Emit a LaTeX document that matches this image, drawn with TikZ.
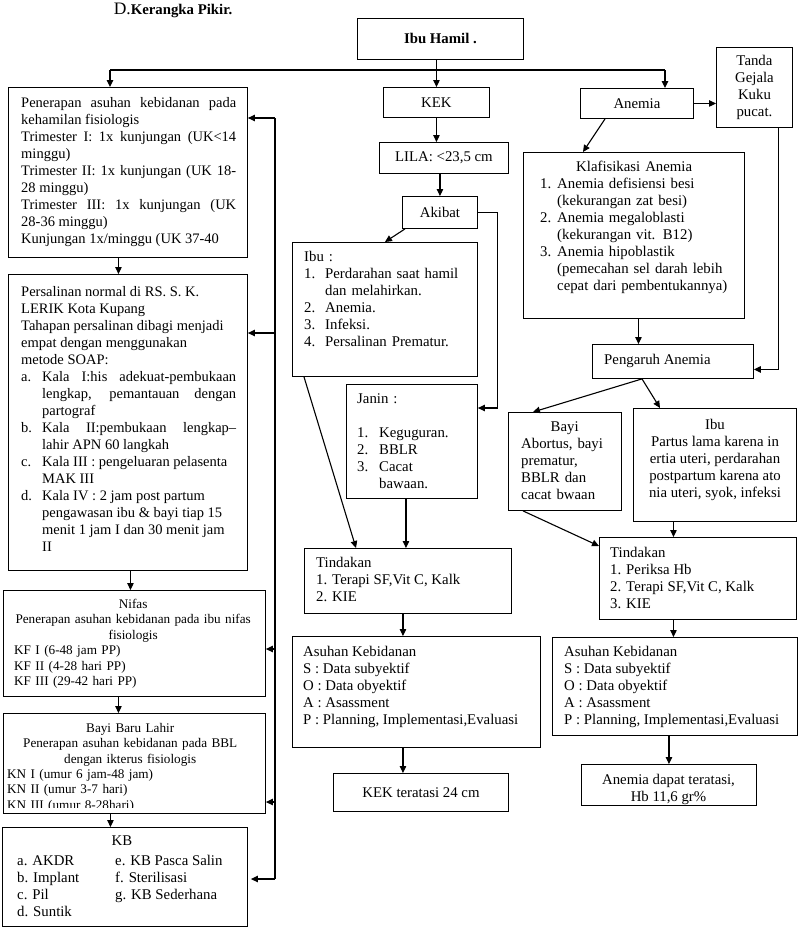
\documentclass[tikz,border=0pt]{standalone}
\usepackage{fontspec}
\setmainfont{Liberation Serif}
\usetikzlibrary{arrows.meta}
\setlength{\parindent}{0pt}
\setlength{\parskip}{0pt}
\hyphenpenalty=10000
\exhyphenpenalty=10000
% numbered item with hanging indent
\newcommand{\itm}[3][21pt]{\par\noindent\hangindent=#1\hangafter=1\makebox[#1][l]{#2}#3}

\begin{document}
\begin{tikzpicture}[x=1pt, y=-1pt,
  every node/.style={font=\fontsize{14.8}{17}\selectfont},
  box/.style={draw, line width=0.9pt, inner sep=0pt, anchor=north west},
  txt/.style={inner sep=0pt, anchor=north west},
  left col/.style={font=\fontsize{14.5}{17}\selectfont, align=justify},
  small/.style={font=\fontsize{13.2}{15.4}\selectfont},
  arr/.style={-{Triangle[length=7pt,width=6.5pt]}, line width=1.1pt},
  ln/.style={line width=1.1pt},
]
  \useasboundingbox (0,0) rectangle (798,940);

  \node[txt, anchor=center] (judul) at (173,10)
    {{\fontsize{17.5}{20}\selectfont D.}\textbf{Kerangka Pikir.}};

  % top row
  \node[box, minimum width=166pt, minimum height=41pt] (ih) at (357,18) {\textbf{Ibu Hamil .}};
  \node[box, minimum width=106pt, minimum height=30pt] (kek) at (383,87) {KEK};
  \node[box, minimum width=113pt, minimum height=30pt] (anemia) at (580,88) {Anemia};
  \node[box, minimum width=76pt, minimum height=80pt, align=center] (tanda) at (716,47)
    {Tanda\\Gejala\\Kuku\\pucat.};

  % KEK column
  \node[box, minimum width=129pt, minimum height=31pt] (lila) at (379,142) {LILA: <23,5 cm};
  \node[box, minimum width=75pt, minimum height=32pt] (akibat) at (402,196) {Akibat};
  \node[box, minimum width=185pt, minimum height=134pt] (ibuk) at (292,242) {};
  \node[txt, text width=166pt] (ibuk-t) at (304,251)
    {Ibu :\itm{1.}{Perdarahan saat hamil\newline dan melahirkan.}\itm{2.}{Anemia.}%
     \itm{3.}{Infeksi.}\itm{4.}{Persalinan Prematur.}\par};
  \node[box, minimum width=131pt, minimum height=114pt] (janin) at (346,384) {};
  \node[txt, text width=113pt] (janin-t) at (357,393)
    {Janin :\par\mbox{}\itm[22pt]{1.}{Keguguran.}\itm[22pt]{2.}{BBLR}%
     \itm[22pt]{3.}{Cacat\newline bawaan.}\par};
  \node[box, minimum width=207pt, minimum height=65pt] (tindk) at (304,548) {};
  \node[txt, align=left] (tindk-t) at (316,557)
    {Tindakan\\1. Terapi SF,Vit C, Kalk\\2. KIE};
  \node[box, minimum width=248pt, minimum height=111pt] (asuhk) at (292,636) {};
  \node[txt, align=left] (asuhk-t) at (303,646)
    {Asuhan Kebidanan\\S : Data subyektif\\O : Data obyektif\\A : Asassment\\P : Planning, Implementasi,Evaluasi};
  \node[box, minimum width=175pt, minimum height=38pt] (kekt) at (333,773) {KEK teratasi 24 cm};

  % Anemia column
  \node[box, minimum width=221pt, minimum height=166pt] (klas) at (523,152) {};
  \node[txt, text width=200pt] (klas-t) at (540,161)
    {\hspace*{36pt}Klafisikasi Anemia%
     \itm[17pt]{1.}{Anemia defisiensi besi\newline (kekurangan zat besi)}%
     \itm[17pt]{2.}{Anemia megaloblasti\newline (kekurangan vit. B12)}%
     \itm[17pt]{3.}{Anemia hipoblastik\newline (pemecahan sel darah lebih\newline cepat dari pembentukannya)}\par};
  \node[box, minimum width=161pt, minimum height=34pt] (peng) at (592,344) {};
  \node[txt, anchor=west] (peng-t) at ([xshift=12pt]peng.west) {Pengaruh Anemia};
  \node[box, minimum width=113pt, minimum height=98pt] (bayi) at (508,412) {};
  \node[txt, text width=87pt] (bayi-t) at (521,421)
    {\makebox[87pt][c]{Bayi}\\Abortus, bayi\\prematur,\\BBLR dan\\cacat bwaan};
  \node[box, minimum width=163pt, minimum height=113pt] (ibua) at (633,408) {};
  \node[txt, anchor=north, align=center] (ibua-t) at (715,419)
    {Ibu\\Partus lama karena in\\ertia uteri, perdarahan\\postpartum karena ato\\nia uteri, syok, infeksi};
  \node[box, minimum width=197pt, minimum height=82pt] (tinda) at (599,537) {};
  \node[txt, align=left] (tinda-t) at (610,547)
    {Tindakan\\1. Periksa Hb\\2. Terapi SF,Vit C, Kalk\\3. KIE};
  \node[box, minimum width=245pt, minimum height=98pt] (asuha) at (552,637) {};
  \node[txt, align=left] (asuha-t) at (564,646)
    {Asuhan Kebidanan\\S : Data subyektif\\O : Data obyektif\\A : Asassment\\P : Planning, Implementasi,Evaluasi};
  \node[box, minimum width=175pt, minimum height=41pt] (anemt) at (581,764) {};
  \node[txt, anchor=north, align=center] (anemt-t) at (668.5,774)
    {Anemia dapat teratasi,\\Hb 11,6 gr\%};

  % left column
  \node[box, minimum width=239pt, minimum height=170pt] (p1) at (8,87) {};
  \node[txt, left col, text width=215pt] (p1-t) at (21,97)
    {Penerapan asuhan kebidanan pada\linebreak kehamilan fisiologis\par
     Trimester I: 1x kunjungan (UK<14\linebreak minggu)\par
     Trimester II: 1x kunjungan (UK 18-\linebreak 28 minggu)\par
     Trimester III: 1x kunjungan (UK\linebreak 28-36 minggu)\par
     Kunjungan 1x/minggu (UK 37-40\par};
  \node[box, minimum width=239pt, minimum height=296pt] (p2) at (8,274) {};
  \node[txt, left col, text width=215pt] (p2-t) at (21,286)
    {Persalinan normal di RS. S. K.\newline LERIK Kota Kupang\newline Tahapan persalinan dibagi menjadi\newline
     empat dengan menggunakan\newline metode SOAP:%
     \itm{a.}{Kala I:his adekuat-pembukaan\linebreak lengkap, pemantauan dengan\linebreak partograf}%
     \itm{b.}{Kala II:pembukaan lengkap\textendash\linebreak lahir APN 60 langkah}%
     \itm{c.}{Kala III : pengeluaran pelasenta\newline MAK III}%
     \itm{d.}{Kala IV : 2 jam post partum\newline pengawasan ibu \& bayi tiap 15\newline menit 1 jam I dan 30 menit jam\newline II}\par};
  \node[box, minimum width=262pt, minimum height=106pt] (nifas) at (3,590) {};
  \node[txt, small, text width=250pt] (nifas-t) at (8,599)
    {\centering Nifas\\Penerapan asuhan kebidanan pada ibu nifas\\fisiologis\par
     \raggedright\leftskip=6pt KF I (6-48 jam PP)\\KF II (4-28 hari PP)\\KF III (29-42 hari PP)\par};
  \node[box, minimum width=262pt, minimum height=100pt] (bbl) at (3,713) {};
  \begin{scope}
    \clip (bbl.north west) rectangle ([yshift=6pt]bbl.south east);
    \node[txt, small, text width=246pt] (bbl-t) at (7,723)
      {\centering Bayi Baru Lahir\\Penerapan asuhan kebidanan pada BBL\\dengan ikterus fisiologis\par
       \raggedright KN I (umur 6 jam-48 jam)\\KN II (umur 3-7 hari)\\KN III (umur 8-28hari)};
  \end{scope}
  \node[box, minimum width=245pt, minimum height=99pt] (kb) at (2,827) {};
  \node[txt, anchor=north] (kb-t) at (122,836) {KB};
  \node[txt] (kb-l) at (17,853)
    {\begin{tabular}{@{}p{98pt}@{}l@{}}
       a. AKDR    & e. KB Pasca Salin\\
       b. Implant & f. Sterilisasi\\
       c. Pil     & g. KB Sederhana\\
       d. Suntik  &
     \end{tabular}};

  % split from Ibu Hamil
  \coordinate (barL) at (110,70);
  \coordinate (barR) at (665,70);
  \draw[ln] (barL) -- (barR);
  \draw[arr] (ih.south -| kek.north) -- (kek.north);
  \draw[arr] (barL) -- (barL |- p1.north);
  \draw[arr] (barR) -- (barR |- anemia.north);

  % left column
  \draw[arr] ([xshift=-9.5pt]p1.south) -- ([xshift=-9.5pt]p1.south |- p2.north);
  \draw[arr] ([xshift=2.5pt]p2.south) -- ([xshift=2.5pt]p2.south |- nifas.north);
  \draw[arr] ([xshift=-16pt]nifas.south) -- ([xshift=-16pt]nifas.south |- bbl.north);
  \draw[arr] ([xshift=-24pt]bbl.south) -- ([xshift=-24pt]bbl.south |- kb.north);
  \coordinate (fb1) at (275,118);
  \coordinate (fb2) at (275,333);
  \coordinate (fb3) at (275,649);
  \coordinate (fb4) at (275,802);
  \coordinate (fb5) at (275,879);
  \draw[ln] (fb1) -- (fb5);
  \draw[arr] (fb1) -- (fb1 -| p1.east);
  \draw[arr] (fb2) -- (fb2 -| p2.east);
  \draw[arr] (fb3) -- (fb3 -| nifas.east);
  \draw[arr] (fb4) -- (fb4 -| bbl.east);
  \draw[arr] (fb5) -- ([xshift=3pt]fb5 -| kb.east);

  % KEK column
  \draw[arr] (kek.south) -- (kek.south |- lila.north);
  \draw[arr] (akibat.north |- lila.south) -- (akibat.north);
  \draw[arr] ([xshift=3pt]akibat.south west) -- (ibuk.north);
  \draw[arr] (akibat.east) -| ([xshift=20pt,yshift=-24pt]janin.north east) -- ([yshift=-24pt]janin.north east);
  \draw[arr] ([xshift=12pt]ibuk.south west) -- ([xshift=52pt]tindk.north west);
  \draw[arr] ([xshift=-6pt]janin.south) -- ([xshift=-6pt]janin.south |- tindk.north);
  \draw[arr] ([xshift=-5pt]tindk.south) -- ([xshift=-5pt]tindk.south |- asuhk.north);
  \draw[arr] ([xshift=-5pt]tindk.south |- asuhk.south) -- ([xshift=-5pt]tindk.south |- kekt.north);

  % Anemia column
  \draw[arr] (anemia.east) -- (anemia.east -| tanda.west);
  \draw[arr] ([xshift=25pt]anemia.south west) -- ([xshift=60pt]klas.north west);
  \draw[arr] ([xshift=-14pt]tanda.south east) |- ([yshift=-8pt]peng.east);
  \draw[arr] ([xshift=4.5pt]klas.south) -- ([xshift=4.5pt]klas.south |- peng.north);
  \draw[arr] ([xshift=50pt]peng.south west) -- ([xshift=25pt]bayi.north west);
  \draw[arr] ([xshift=50pt]peng.south west) -- ([xshift=27pt]ibua.north west);
  \draw[arr] ([xshift=15pt]bayi.south west) -- ([yshift=-9pt]tinda.north west);
  \draw[arr] ([xshift=-41.5pt]ibua.south) -- ([xshift=-41.5pt]ibua.south |- tinda.north);
  \draw[arr] ([xshift=-41.5pt]ibua.south |- tinda.south) -- ([xshift=-41.5pt]ibua.south |- asuha.north);
  \draw[arr] (anemt.north |- asuha.south) -- (anemt.north);
\end{tikzpicture}
\end{document}
